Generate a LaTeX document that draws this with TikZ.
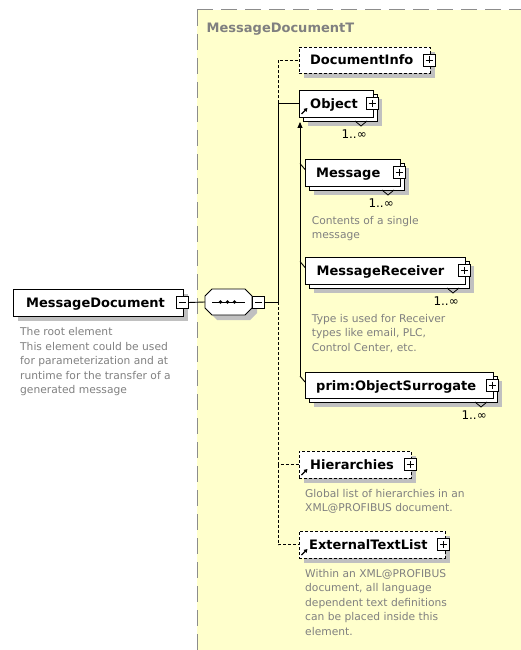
\documentclass[tikz,border=0pt]{standalone}
\usepackage{fontspec}
\setmainfont{DejaVu Sans}
\usetikzlibrary{shadows,arrows.meta}

\definecolor{panelfill}{HTML}{FFFFCC}
\definecolor{panelrule}{HTML}{8C8C8C}
\definecolor{shade}{HTML}{C0C0C0}
\definecolor{notegray}{HTML}{808080}

\tikzset{
  wire/.style={line width=0.9pt, draw=black},
  optwire/.style={wire, dash pattern=on 3pt off 2pt},
  shadowed/.style={drop shadow={shadow xshift=5pt, shadow yshift=-5pt, fill=shade, opacity=1}},
  elbox/.style={draw=black, fill=white, line width=0.9pt, inner sep=0pt, outer sep=0pt, anchor=north west},
  optbox/.style={elbox, dash pattern=on 3pt off 2pt},
  elname/.style={font=\fontsize{13}{15}\selectfont\bfseries, inner sep=0pt, anchor=base west},
  % multi-line notes: the base anchor sits on the last line
  note/.style={font=\fontsize{10.7}{14.5}\selectfont, text=notegray, inner sep=0pt, anchor=base west, align=left},
  card/.style={font=\fontsize{12}{14}\selectfont, inner sep=0pt, anchor=east},
  btn/.style={draw=black, fill=white, line width=0.8pt, minimum size=12pt, inner sep=0pt, outer sep=0pt},
  plusbtn/.style={btn, path picture={
     \draw[line width=0.8pt] ([xshift=2.5pt]path picture bounding box.west) -- ([xshift=-2.5pt]path picture bounding box.east);
     \draw[line width=0.8pt] ([yshift=-2.5pt]path picture bounding box.north) -- ([yshift=2.5pt]path picture bounding box.south);}},
  minusbtn/.style={btn, path picture={
     \draw[line width=0.8pt] ([xshift=2.5pt]path picture bounding box.west) -- ([xshift=-2.5pt]path picture bounding box.east);}},
  refmark/.style={line width=1.3pt, -{Triangle[length=3.5pt,width=4pt]}},
  chevron/.style={line width=0.8pt},
}

\begin{document}
\begin{tikzpicture}[x=1pt,y=-1pt]
\useasboundingbox (0,0) rectangle (521,650);

% complex type panel
\fill[panelfill] (197,10) rectangle (521,650);
\draw[panelrule, line width=1pt, dash pattern=on 16pt off 8pt] (197,10) -- (521,10);
\draw[panelrule, line width=1pt, dash pattern=on 16pt off 8pt] (197,10) -- (197,650);
\node[font=\fontsize{13}{15}\selectfont\bfseries, text=notegray, inner sep=0pt, anchor=base west] (title) at (206.5,33) {MessageDocumentT};

% root element
\node[elbox, shadowed, minimum width=170pt, minimum height=27pt] (md) at (13,289) {};
\node[elname] (mdname) at (26,307.3) {MessageDocument};
\node[minusbtn] (mdbtn) at (182.5,302.5) {};
\node[note] (mdnote) at (20,393.6) {The root element\\This element could be used\\for parameterization and at\\runtime for the transfer of a\\generated message};

% sequence compositor
\node[inner sep=0pt, outer sep=0pt, minimum width=47pt, minimum height=26pt] (seq) at (228.5,302) {};
\filldraw[wire, fill=white, shadowed]
  ([xshift=7pt]seq.north west) -- ([xshift=-7pt]seq.north east) -- ([yshift=-7pt]seq.north east)
  -- ([yshift=7pt]seq.south east) -- ([xshift=-7pt]seq.south east) -- ([xshift=7pt]seq.south west)
  -- ([yshift=7pt]seq.south west) -- ([yshift=-7pt]seq.north west) -- cycle;
\draw[wire] ([xshift=7pt]seq.west) -- ([xshift=-7pt]seq.east);
\foreach \d in {-7,0,7} \fill ([xshift=\d pt, xshift=-1pt]seq.center) circle (1.8pt);
\node[minusbtn] (seqbtn) at (258.5,302) {};
\coordinate (jn) at (278,302);

% DocumentInfo (optional)
\node[optbox, shadowed, minimum width=131pt, minimum height=26pt] (docinfo) at (299,47) {};
\node[elname] (docinfoname) at (310,65) {DocumentInfo};
\node[plusbtn] (docinfobtn) at (429,60) {};

% Object (1..unbounded, substitution head)
\node[elbox, shadowed, minimum width=74pt, minimum height=27pt] (objback) at (303,94) {};
\node[elbox, minimum width=74pt, minimum height=27pt] (obj) at (299,90) {};
\node[elname] (objname) at (310,108.3) {Object};
\node[plusbtn] (objbtn) at (372,103.5) {};
\draw[refmark] ([shift={(2.5,-3)}]obj.south west) -- ++(6,-6);
\draw[chevron] ([xshift=-22pt]objback.south east) -- ++(6,5) -- ++(6,-5);
\node[card] (objcard) at ([xshift=-10pt,yshift=-13pt]objback.south east) {1..∞};

% Message
\node[elbox, shadowed, minimum width=95pt, minimum height=27pt] (msgback) at (309,163) {};
\node[elbox, minimum width=95pt, minimum height=27pt] (msg) at (305,159) {};
\node[elname] (msgname) at (316,177.5) {Message};
\node[plusbtn] (msgbtn) at (399,172.5) {};
\draw[chevron] ([xshift=-22pt]msgback.south east) -- ++(6,5) -- ++(6,-5);
\node[card] (msgcard) at ([xshift=-10pt,yshift=-13pt]msgback.south east) {1..∞};
\node[note] (msgnote) at (311.7,238.5) {Contents of a single\\message};

% MessageReceiver
\node[elbox, shadowed, minimum width=160pt, minimum height=27pt] (mrback) at (309,261) {};
\node[elbox, minimum width=160pt, minimum height=27pt] (mr) at (305,257) {};
\node[elname] (mrname) at (316.5,275.7) {MessageReceiver};
\node[plusbtn] (mrbtn) at (464,270.5) {};
\draw[chevron] ([xshift=-22pt]mrback.south east) -- ++(6,5) -- ++(6,-5);
\node[card] (mrcard) at ([xshift=-10pt,yshift=-13pt]mrback.south east) {1..∞};
\node[note] (mrnote) at (311.7,351.2) {Type is used for Receiver\\types like email, PLC,\\Control Center, etc.};

% prim:ObjectSurrogate
\node[elbox, shadowed, minimum width=188pt, minimum height=26pt] (primback) at (309,376) {};
\node[elbox, minimum width=188pt, minimum height=26pt] (prim) at (305,372) {};
\node[elname] (primname) at (316,390) {prim:ObjectSurrogate};
\node[plusbtn] (primbtn) at (492,385) {};
\draw[chevron] ([xshift=-22pt]primback.south east) -- ++(6,5) -- ++(6,-5);
\node[card] (primcard) at ([xshift=-10pt,yshift=-13pt]primback.south east) {1..∞};

% Hierarchies (optional reference)
\node[optbox, shadowed, minimum width=112pt, minimum height=27pt] (hier) at (299,451) {};
\node[elname] (hiername) at (310,469.5) {Hierarchies};
\node[plusbtn] (hierbtn) at (410,464.5) {};
\draw[refmark] ([shift={(2.5,-3)}]hier.south west) -- ++(6,-6);
\node[note] (hiernote) at (305,511.7) {Global list of hierarchies in an\\XML@PROFIBUS document.};

% ExternalTextList (optional reference)
\node[optbox, shadowed, minimum width=146pt, minimum height=27pt] (ext) at (299,531) {};
\node[elname] (extname) at (309,549.5) {ExternalTextList};
\node[plusbtn] (extbtn) at (443.5,544.5) {};
\draw[refmark] ([shift={(2.5,-3)}]ext.south west) -- ++(6,-6);
\node[note] (extnote) at (305,635.2) {Within an XML@PROFIBUS\\document, all language\\dependent text definitions\\can be placed inside this\\element.};

% connectors of the content model
\draw[wire] (mdbtn.east) -- (seq.west);
\draw[wire] (seqbtn.east) -- (jn);
\draw[wire] (jn) |- (obj.west);
\draw[optwire] (obj.west -| jn) |- (docinfo.west);
\draw[optwire] (jn) |- (hier.west);
\draw[optwire] (hier.west -| jn) |- (ext.west);

% substitution group members of Object
\coordinate (sgtop) at (300,122);
\foreach \n in {msg,mr,prim} {
  \path ([yshift=9pt]\n.west) coordinate (\n-up);
  \draw[wire] (\n-up -| sgtop) -- ([yshift=3pt]\n.west);
}
\draw[wire, -{Triangle[length=6pt,width=5pt]}] (prim-up -| sgtop) -- (sgtop);
\end{tikzpicture}
\end{document}
